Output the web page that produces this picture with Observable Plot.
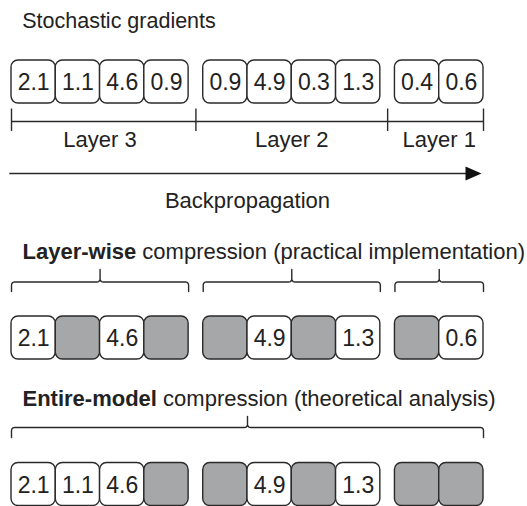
<!DOCTYPE html>
<html>
<head>
<meta charset="utf-8">
<script src="https://cdn.jsdelivr.net/npm/d3@7"></script>
<script src="https://cdn.jsdelivr.net/npm/@observablehq/plot@0.6"></script>
<style>
  html, body { margin: 0; padding: 0; background: #fff; }
</style>
</head>
<body>
<div id="chart"></div>
<script>
// ---- data ----
const layers = ["Layer 3", "Layer 2", "Layer 1"];
const gradients = [[2.1, 1.1, 4.6, 0.9], [0.9, 4.9, 0.3, 1.3], [0.4, 0.6]];
const layerWiseKept = [[1, 0, 1, 0], [0, 1, 0, 1], [0, 1]];
const entireModelKept = [[1, 1, 1, 0], [0, 1, 0, 1], [0, 0]];
const rowKeep = [gradients.map(g => g.map(() => 1)), layerWiseKept, entireModelKept];
const headerText = "Stochastic gradients";
const arrowText = "Backpropagation";
const rowTitles = [
  {bold: "Layer-wise", rest: " compression (practical implementation)"},
  {bold: "Entire-model", rest: " compression (theoretical analysis)"}
];

// ---- layout ----
const W = 527, H = 506;
const GAP = 0.33;                     // gap between layer groups, in box units
const sizes = gradients.map(g => g.length);
const offsets = sizes.map((_, i) => d3.sum(sizes.slice(0, i)) + i * GAP);
const TOTAL = d3.sum(sizes) + (sizes.length - 1) * GAP;
const X0 = 11, X1 = 483;
const U = (X1 - X0) / TOTAL;           // px per box unit
const rowTop = [60, 316, 462.5];
const BOX_H = 43;
const INK = "#2a2a2a";
const GREY = "#a6a7a9";

const cells = [];
rowKeep.forEach((rk, row) => {
  gradients.forEach((g, li) => {
    g.forEach((v, j) => {
      cells.push({row, layer: li, value: v, s: offsets[li] + j, kept: !!rk[li][j]});
    });
  });
});

// ruler boundaries (start, gap midpoints, end)
const bounds = [0, ...offsets.slice(1).map(o => o - GAP / 2), TOTAL];

// curly brace generator
function brace(id, x0, x1, xm, yLine, yTip, yEnd, r) {
  const rx = r / U;
  const pts = [];
  const arc = (cx, cy, a0, a1) => {
    for (let k = 0; k <= 6; k++) {
      const a = a0 + (a1 - a0) * k / 6;
      pts.push({id, x: cx + rx * Math.cos(a), y: cy + r * Math.sin(a)});
    }
  };
  pts.push({id, x: x0, y: yEnd});
  arc(x0 + rx, yLine + r, Math.PI, 1.5 * Math.PI);
  arc(xm - rx, yLine - r, 0.5 * Math.PI, 0);
  pts.push({id, x: xm, y: yTip});
  arc(xm + rx, yLine - r, Math.PI, 0.5 * Math.PI);
  arc(x1 - rx, yLine + r, 1.5 * Math.PI, 2 * Math.PI);
  pts.push({id, x: x1, y: yEnd});
  return pts;
}
const braces = [
  ...sizes.flatMap((n, i) => brace("lw" + i, offsets[i], offsets[i] + n, offsets[i] + n / 2, 281.5, 269, 291, 3)),
  ...brace("em", 0, TOTAL, TOTAL / 2, 427, 416, 437, 3)
];

const tip = TOTAL - 2 / U;
const arrowHead = [
  {x: tip - 16 / U, y: 166}, {x: tip, y: 173}, {x: tip - 16 / U, y: 180}
];

const chart = Plot.plot({
  width: W, height: H, margin: 0,
  x: {domain: [0, TOTAL], range: [X0, X1], axis: null},
  y: {domain: [0, H], range: [0, H], axis: null},
  style: {fontFamily: "'Liberation Sans', Arial, Helvetica, sans-serif", fontSize: "22px", background: "#fff", color: INK},
  marks: [
    Plot.text([headerText], {x: 0, dx: 10.7, y: 27.5, text: d => d, textAnchor: "start", lineAnchor: "bottom", fontSize: 21.5, fill: "#222"}),
    Plot.rect(cells, {x1: "s", x2: d => d.s + 1, y1: d => rowTop[d.row], y2: d => rowTop[d.row] + BOX_H,
      fill: d => d.kept ? "#fff" : GREY, stroke: INK, strokeWidth: 1.4, rx: 7}),
    Plot.text(cells.filter(d => d.kept), {x: d => d.s + 0.5, y: d => rowTop[d.row] + 29.5,
      text: d => d.value.toFixed(1), lineAnchor: "bottom", fontSize: 23, fill: "#222"}),
    Plot.ruleY([121], {x1: 0, x2: TOTAL, stroke: INK, strokeWidth: 1.4}),
    Plot.ruleX(bounds, {y1: 108.5, y2: 131, stroke: INK, strokeWidth: 1.4}),
    Plot.text(layers, {x: (d, i) => offsets[i] + sizes[i] / 2, y: 146, text: d => d, lineAnchor: "bottom", fontSize: 22, fill: "#222"}),
    Plot.ruleY([173], {x1: -1.7 / U, x2: tip - 14 / U, stroke: INK, strokeWidth: 1.5}),
    Plot.line(arrowHead, {x: "x", y: "y", fill: "#111", stroke: "none"}),
    Plot.text([arrowText], {x: TOTAL / 2, y: 207, text: d => d, lineAnchor: "bottom", fontSize: 22, fill: "#222"}),
    Plot.line(braces, {x: "x", y: "y", z: "id", stroke: INK, strokeWidth: 1.4}),
    Plot.text(rowTitles, {x: 0, dx: 11, y: (d, i) => [258, 405][i], text: d => d.bold + d.rest,
      textAnchor: "start", lineAnchor: "bottom", fontSize: 22, fill: "#222"})
  ]
});

// make the leading word of each row title bold
d3.select(chart).selectAll("text").each(function() {
  const s = this.textContent;
  const t = rowTitles.find(r => r.bold + r.rest === s);
  if (!t) return;
  const sel = d3.select(this).style("white-space", "pre");
  sel.text(null);
  sel.append("tspan").attr("font-weight", "bold").text(t.bold);
  sel.append("tspan").text(t.rest);
});

document.getElementById("chart").appendChild(chart);
</script>
</body>
</html>
